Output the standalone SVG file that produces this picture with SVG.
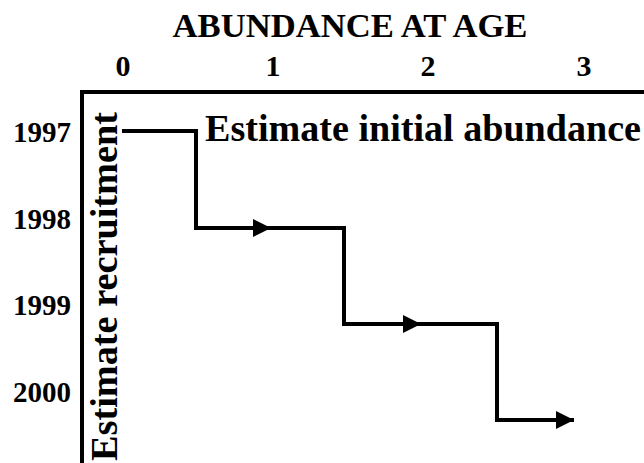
<svg xmlns="http://www.w3.org/2000/svg" width="644" height="463" viewBox="0 0 644 463">
<style>
text{font-family:"Liberation Serif","Times New Roman",serif;font-weight:bold;fill:#000}
.ln{fill:none;stroke:#000;stroke-width:4;stroke-linejoin:miter;stroke-linecap:butt}
</style>
<defs>
<marker id="ah" markerUnits="userSpaceOnUse" markerWidth="18" markerHeight="18" refX="16" refY="8" orient="auto" viewBox="0 0 16 16">
<path d="M0 0 L16 8 L0 16 Z" fill="#000"/>
</marker>
</defs>
<rect width="644" height="463" fill="#fff"/>
<g id="title"><text x="350" y="37" font-size="34" text-anchor="middle" textLength="355" lengthAdjust="spacingAndGlyphs">ABUNDANCE AT AGE</text></g>
<g id="ages" font-size="30">
<text x="123" y="76" text-anchor="middle">0</text>
<text x="273" y="76" text-anchor="middle">1</text>
<text x="428" y="76" text-anchor="middle">2</text>
<text x="584" y="76" text-anchor="middle">3</text>
</g>
<g id="years" font-size="29">
<text x="42" y="142" text-anchor="middle">1997</text>
<text x="42" y="229" text-anchor="middle">1998</text>
<text x="42" y="315" text-anchor="middle">1999</text>
<text x="42" y="402" text-anchor="middle">2000</text>
</g>
<g id="frame"><path class="ln" d="M82 463 V92 H644"/></g>
<g id="recruit"><text transform="translate(117,461) rotate(-90)" font-size="38" textLength="349" lengthAdjust="spacingAndGlyphs">Estimate recruitment</text></g>
<g id="initial"><text x="205" y="141" font-size="38" textLength="436" lengthAdjust="spacingAndGlyphs">Estimate initial abundance</text></g>
<g id="connectors">
<path class="ln" d="M122 131 H196 V228 H271" marker-end="url(#ah)"/>
<path class="ln" d="M270 228 H344 V324 H421" marker-end="url(#ah)"/>
<path class="ln" d="M421 324 H497 V420 H574" marker-end="url(#ah)"/>
</g>
</svg>
